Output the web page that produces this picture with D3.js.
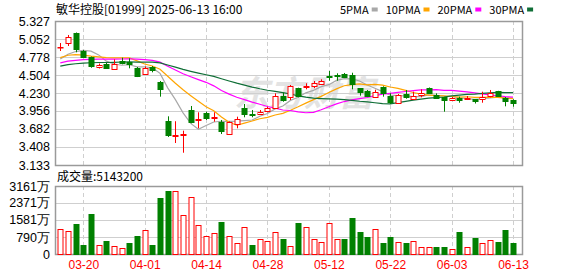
<!DOCTYPE html>
<html>
<head>
<meta charset="utf-8">
<script src="https://cdn.jsdelivr.net/npm/d3@7"></script>
<style>
    body { margin: 0; background: #fff; }
    svg { display: block; }
    text { font-family: 'Liberation Sans', Arial, sans-serif; }
    .cjk { font-family: 'Noto Sans CJK SC', sans-serif; }
</style>
</head>
<body>
<div id="chart"></div>
<script>
const dates = ['03-17', '03-18', '03-19', '03-20', '03-21', '03-24', '03-25', '03-26', '03-27', '03-28',
    '03-31', '04-01', '04-02', '04-03', '04-07', '04-08', '04-09', '04-10', '04-11', '04-14',
    '04-15', '04-16', '04-17', '04-22', '04-23', '04-24', '04-25', '04-28', '04-29', '04-30',
    '05-02', '05-06', '05-07', '05-08', '05-09', '05-12', '05-13', '05-14', '05-15', '05-16',
    '05-19', '05-20', '05-21', '05-22', '05-23', '05-26', '05-27', '05-28', '05-29', '05-30',
    '06-02', '06-03', '06-04', '06-05', '06-06', '06-09', '06-10', '06-11', '06-12', '06-13'];

const opens = [4.931, 4.987, 5.144, 4.870, 4.778, 4.625, 4.667, 4.606, 4.722, 4.707,
    4.615, 4.515, 4.626, 4.393, 3.799, 3.582, 3.590, 3.971, 3.823, 3.930,
    3.855, 3.793, 3.605, 3.758, 3.997, 3.915, 3.905, 3.945, 4.012, 4.189,
    4.164, 4.302, 4.332, 4.337, 4.367, 4.493, 4.507, 4.524, 4.504, 4.302,
    4.265, 4.174, 4.314, 4.184, 4.082, 4.210, 4.131, 4.200, 4.302, 4.207,
    4.164, 4.128, 4.149, 4.143, 4.134, 4.149, 4.184, 4.263, 4.154, 4.126];

const highs = [4.992, 5.114, 5.152, 4.885, 4.786, 4.679, 4.687, 4.743, 4.768, 4.759,
    4.626, 4.634, 4.641, 4.413, 3.875, 3.800, 3.656, 4.032, 3.936, 3.945,
    3.936, 3.819, 3.796, 3.869, 4.062, 3.971, 3.971, 4.021, 4.225, 4.235,
    4.352, 4.311, 4.378, 4.413, 4.439, 4.565, 4.530, 4.535, 4.539, 4.306,
    4.276, 4.280, 4.332, 4.225, 4.215, 4.276, 4.250, 4.286, 4.314, 4.225,
    4.164, 4.169, 4.174, 4.184, 4.138, 4.250, 4.276, 4.263, 4.169, 4.134];

const lows = [4.870, 4.946, 4.850, 4.771, 4.615, 4.603, 4.596, 4.606, 4.667, 4.606,
    4.473, 4.512, 4.545, 4.174, 3.560, 3.468, 3.320, 3.768, 3.692, 3.819,
    3.793, 3.605, 3.605, 3.692, 3.860, 3.860, 3.902, 3.936, 4.001, 4.097,
    4.123, 4.164, 4.286, 4.302, 4.352, 4.417, 4.417, 4.469, 4.286, 4.189,
    4.169, 4.169, 4.174, 4.062, 4.073, 4.143, 4.123, 4.164, 4.225, 4.143,
    3.945, 4.123, 4.082, 4.123, 4.070, 4.082, 4.164, 4.169, 4.027, 4.021];

const closes = [4.938, 5.078, 4.893, 4.786, 4.645, 4.650, 4.600, 4.676, 4.692, 4.683,
    4.493, 4.606, 4.585, 4.280, 3.579, 3.593, 3.600, 3.784, 3.832, 3.860,
    3.864, 3.656, 3.784, 3.838, 3.910, 3.905, 3.940, 3.997, 4.189, 4.123,
    4.337, 4.174, 4.341, 4.378, 4.408, 4.484, 4.499, 4.478, 4.362, 4.238,
    4.184, 4.245, 4.225, 4.093, 4.200, 4.169, 4.181, 4.225, 4.230, 4.161,
    4.123, 4.161, 4.120, 4.161, 4.097, 4.174, 4.225, 4.184, 4.113, 4.082];

// volume in 万 shares
const volumes = [1166, 1074, 1411, 430, 1871, 430, 583, 384, 291, 491,
    859, 1120, 430, 2608, 2930, 2930, 1810, 2638, 1350, 844,
    982, 1503, 844, 522, 1258, 430, 706, 614, 1043, 715,
    384, 1457, 1273, 706, 537, 1457, 675, 675, 1687, 1012,
    813, 1181, 506, 813, 537, 491, 583, 337, 337, 307,
    307, 215, 1012, 307, 767, 491, 629, 537, 1135, 514.32];

// closes before 03-17, not shown; estimated so the averages start where they do in the picture
const closesBefore = [4.42, 4.48, 4.51, 4.46, 4.55, 4.60, 4.58, 4.56, 4.62, 4.62,
    4.58, 4.63, 4.60, 4.55, 4.57, 4.62, 4.66, 4.64, 4.62, 4.63,
    4.72, 4.80, 4.85, 4.81, 4.77, 4.72, 4.69, 4.70, 4.70];

const priceTicks = ['3.133', '3.408', '3.682', '3.956', '4.230', '4.504', '4.778', '5.052', '5.327'];
const volumeTicks = [0, 790, 1581, 2371, 3161];
const dateLabels = ['03-20', '04-01', '04-14', '04-28', '05-12', '05-22', '06-03', '06-13'];
const maPeriods = [5, 10, 20, 30];

const maColors = ['#a8a8a8', '#ffa500', '#ff00ff', '#0f6e36'];
const upColor = '#ff0000';
const downColor = '#008000';

const width = 578;
const height = 276;
const left = 55;
const right = 522;
const priceTop = 21;
const priceBottom = 165;
const volTop = 186;
const volBottom = 254;

const svg = d3.select('#chart')
    .append('svg')
    .attr('width', width)
    .attr('height', height);

const x = d3.scalePoint()
    .domain(dates)
    .range([60.3, 513]);

const y = d3.scaleLinear()
    .domain([+priceTicks[0], +priceTicks[priceTicks.length - 1]])
    .range([priceBottom, priceTop]);

const yVol = d3.scaleLinear()
    .domain([0, volumeTicks[volumeTicks.length - 1]])
    .range([volBottom, volTop]);

const px = d => Math.round(x(d)) + 0.5;

// watermark
svg.append('text')
    .attr('class', 'cjk')
    .attr('x', 234)
    .attr('y', 106)
    .attr('font-size', 35)
    .attr('font-weight', 'bold')
    .attr('font-style', 'italic')
    .attr('fill', '#e3e3e3')
    .text('东方财富');

// grids and frames
const drawFrame = (top, bottom, yScale, ticks) => {
    svg.append('g')
        .selectAll('line')
        .data(ticks)
        .enter()
        .append('line')
        .attr('x1', left)
        .attr('x2', right)
        .attr('y1', d => Math.round(yScale(+d)) + 0.5)
        .attr('y2', d => Math.round(yScale(+d)) + 0.5)
        .attr('stroke', '#cfcfcf');

    svg.append('g')
        .selectAll('line')
        .data(dateLabels)
        .enter()
        .append('line')
        .attr('x1', px)
        .attr('x2', px)
        .attr('y1', top)
        .attr('y2', bottom)
        .attr('stroke', '#cfcfcf')
        .attr('stroke-dasharray', '4,3');

    svg.append('rect')
        .attr('x', left + 0.5)
        .attr('y', top + 0.5)
        .attr('width', right - left)
        .attr('height', bottom - top)
        .attr('fill', 'none')
        .attr('stroke', '#9a9a9a')
        .attr('stroke-width', 1.5);
};

drawFrame(priceTop, priceBottom, y, priceTicks);
drawFrame(volTop, volBottom, yVol, volumeTicks);

// price axis labels
svg.append('g')
    .attr('transform', `translate(${left - 2},0)`)
    .call(d3.axisLeft(y).tickValues(priceTicks.map(Number)).tickFormat((d, i) => priceTicks[i]).tickSize(0))
    .call(g => g.select('.domain').remove())
    .call(g => g.selectAll('text')
        .attr('font-family', "'Liberation Sans', Arial, sans-serif")
        .attr('font-size', 12.5)
        .attr('fill', '#000'));

// volume axis labels
svg.append('g')
    .attr('transform', `translate(${left - 2},0)`)
    .call(d3.axisLeft(yVol).tickValues(volumeTicks).tickFormat(d => d === 0 ? '0' : `${d}万`).tickSize(0))
    .call(g => g.select('.domain').remove())
    .call(g => g.selectAll('text')
        .attr('font-family', "'Liberation Sans', 'Noto Sans CJK SC', sans-serif")
        .attr('font-size', 12.5)
        .attr('fill', '#000'));

// date labels
svg.append('g')
    .attr('transform', `translate(0,${volBottom + 3})`)
    .call(d3.axisBottom(x).tickValues(dateLabels).tickSize(0))
    .call(g => g.select('.domain').remove())
    .call(g => g.selectAll('text')
        .attr('font-family', "'Noto Sans CJK SC', sans-serif")
        .attr('font-size', 12)
        .attr('fill', upColor));

// moving averages
const allCloses = closesBefore.concat(closes);
const offset = closesBefore.length;

const movingAverage = period => closes.map((c, i) =>
    d3.mean(allCloses.slice(i + offset - period + 1, i + offset + 1)));

const line = d3.line()
    .x((d, i) => x(dates[i]))
    .y(d => y(d));

maPeriods.forEach((p, k) => {
    svg.append('path')
        .datum(movingAverage(p))
        .attr('fill', 'none')
        .attr('stroke', maColors[k])
        .attr('stroke-width', 1.2)
        .attr('d', line);
});

// candles
const candles = svg.append('g')
    .selectAll('g')
    .data(dates)
    .enter()
    .append('g');

const isUp = i => closes[i] >= opens[i];

candles.append('line')
    .attr('x1', d => px(d))
    .attr('x2', d => px(d))
    .attr('y1', (d, i) => y(highs[i]))
    .attr('y2', (d, i) => y(lows[i]))
    .attr('stroke', (d, i) => isUp(i) ? upColor : downColor);

candles.append('rect')
    .attr('x', d => px(d) - 2.5)
    .attr('y', (d, i) => Math.round(y(Math.max(opens[i], closes[i]))) + 0.5)
    .attr('width', 5)
    .attr('height', (d, i) => Math.max(0.5, Math.round(Math.abs(y(opens[i]) - y(closes[i])))))
    .attr('fill', (d, i) => isUp(i) ? '#fff' : downColor)
    .attr('stroke', (d, i) => isUp(i) ? upColor : downColor);

// volume bars, coloured against the previous close
const volUp = i => closes[i] >= (i === 0 ? closesBefore[closesBefore.length - 1] : closes[i - 1]);

svg.append('g')
    .selectAll('rect')
    .data(volumes)
    .enter()
    .append('rect')
    .attr('x', (d, i) => px(dates[i]) - 2.5)
    .attr('y', d => Math.round(yVol(d)) + 0.5)
    .attr('width', 5)
    .attr('height', d => volBottom - Math.round(yVol(d)))
    .attr('fill', (d, i) => volUp(i) ? '#fff' : downColor)
    .attr('stroke', (d, i) => volUp(i) ? upColor : downColor);

// title and legend
svg.append('text')
    .attr('class', 'cjk')
    .attr('x', 56)
    .attr('y', 14)
    .attr('font-size', 12)
    .attr('fill', '#000')
    .text('敏华控股[01999] 2025-06-13 16:00');

svg.append('text')
    .attr('class', 'cjk')
    .attr('x', 57)
    .attr('y', 181)
    .attr('font-size', 12)
    .attr('fill', '#000')
    .text(`成交量:${Math.round(volumes[volumes.length - 1] * 10000)}`);

let legendX = 340;
maPeriods.forEach((p, k) => {
    const label = svg.append('text')
        .attr('class', 'cjk')
        .attr('x', legendX)
        .attr('y', 14)
        .attr('font-size', 11)
        .attr('fill', '#000')
        .text(`${p}PMA`);
    const textEnd = legendX + label.node().getComputedTextLength();
    svg.append('rect')
        .attr('x', textEnd + 3)
        .attr('y', 7.5)
        .attr('width', 6)
        .attr('height', 4)
        .attr('fill', maColors[k]);
    legendX = textEnd + 3 + 6 + 8;
});
</script>
</body>
</html>
